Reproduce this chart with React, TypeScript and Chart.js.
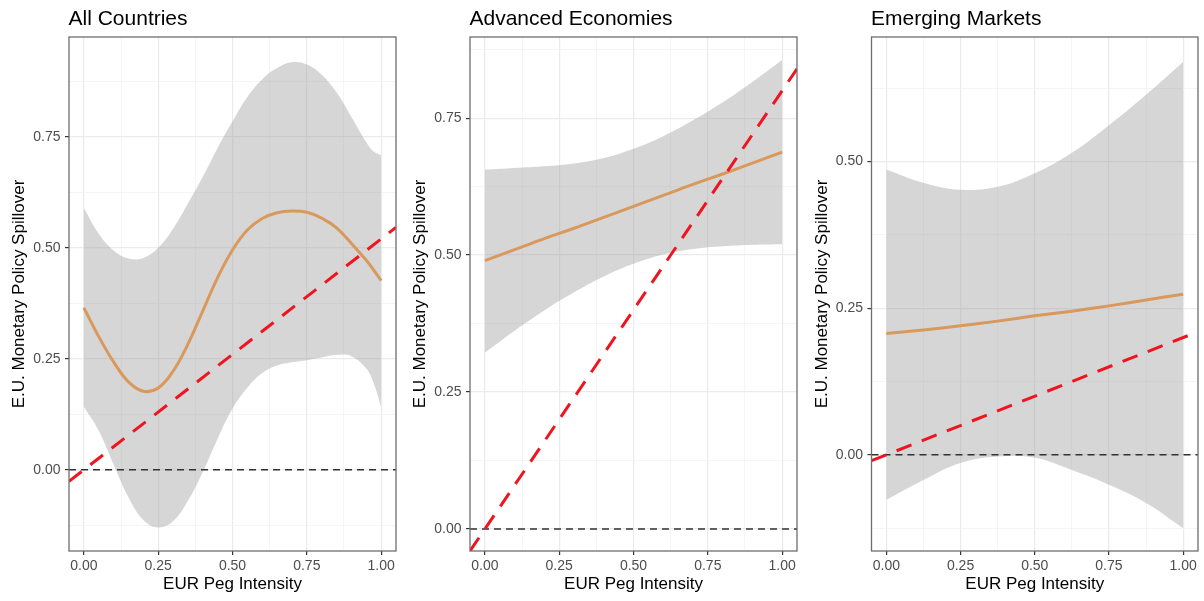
import React, { useEffect, useRef } from 'react';
import { Chart, registerables } from 'chart.js';

Chart.register(...registerables);

const FONT = "'Liberation Sans', Arial, Helvetica, sans-serif";

// ---------- shared axis data ----------
const xRange = [-0.05, 1.05];
const xGridValues = [0, 0.125, 0.25, 0.375, 0.5, 0.625, 0.75, 0.875, 1];
const xMajorValues = [0, 0.25, 0.5, 0.75, 1];
const xTickLabels = ['0.00', '0.25', '0.50', '0.75', '1.00'];
const xAxisTitle = 'EUR Peg Intensity';
const yAxisTitle = 'E.U. Monetary Policy Spillover';

// ---------- panel 1: All Countries ----------
const p1Title = 'All Countries';
const p1X = [0, 0.05, 0.1, 0.15, 0.2, 0.25, 0.3, 0.35, 0.4, 0.45, 0.5, 0.55, 0.6, 0.65, 0.7, 0.75, 0.8, 0.85, 0.9, 0.95, 0.975, 1];
const p1Fit = [0.365, 0.3, 0.243, 0.198, 0.177, 0.184, 0.222, 0.283, 0.358, 0.433, 0.495, 0.54, 0.566, 0.579, 0.583, 0.58, 0.567, 0.545, 0.51, 0.472, 0.45, 0.426];
const p1Upper = [0.59, 0.532, 0.494, 0.476, 0.477, 0.5, 0.543, 0.6, 0.66, 0.725, 0.785, 0.84, 0.88, 0.905, 0.918, 0.913, 0.89, 0.85, 0.795, 0.738, 0.717, 0.709];
const p1Lower = [0.142, 0.088, 0.012, -0.062, -0.113, -0.13, -0.116, -0.07, -0.005, 0.07, 0.138, 0.185, 0.218, 0.235, 0.242, 0.247, 0.253, 0.259, 0.256, 0.228, 0.195, 0.142];
const p1RefX = [-0.05, 1.05];
const p1RefY = [-0.026, 0.546];
const p1YRange = [-0.183, 0.975];
const p1YGrid = [-0.125, 0, 0.125, 0.25, 0.375, 0.5, 0.625, 0.75, 0.875];
const p1YMajor = [0, 0.25, 0.5, 0.75];
const p1YLabels = ['0.00', '0.25', '0.50', '0.75'];

// ---------- panel 2: Advanced Economies ----------
const p2Title = 'Advanced Economies';
const p2X = [0, 0.1, 0.2, 0.3, 0.4, 0.5, 0.6, 0.7, 0.8, 0.9, 1];
const p2Fit = [0.49, 0.51, 0.53, 0.549, 0.569, 0.589, 0.609, 0.629, 0.648, 0.668, 0.688];
const p2Upper = [0.656, 0.659, 0.662, 0.667, 0.677, 0.694, 0.717, 0.746, 0.779, 0.816, 0.856];
const p2Lower = [0.322, 0.362, 0.399, 0.432, 0.461, 0.484, 0.501, 0.511, 0.516, 0.519, 0.52];
const p2RefX = [-0.05, 1.05];
const p2RefY = [-0.04, 0.84];
const p2YRange = [-0.04, 0.898];
const p2YGrid = [0, 0.125, 0.25, 0.375, 0.5, 0.625, 0.75, 0.875];
const p2YMajor = [0, 0.25, 0.5, 0.75];
const p2YLabels = ['0.00', '0.25', '0.50', '0.75'];

// ---------- panel 3: Emerging Markets ----------
const p3Title = 'Emerging Markets';
const p3X = [0, 0.125, 0.25, 0.375, 0.5, 0.625, 0.75, 0.875, 1];
const p3Fit = [0.207, 0.213, 0.22, 0.228, 0.237, 0.245, 0.254, 0.264, 0.274];
const p3Upper = [0.486, 0.464, 0.452, 0.457, 0.48, 0.515, 0.562, 0.614, 0.67];
const p3Lower = [-0.077, -0.043, -0.014, -0.003, -0.005, -0.026, -0.051, -0.082, -0.125];
const p3RefX = [-0.05, 1.05];
const p3RefY = [-0.01, 0.21];
const p3YRange = [-0.164, 0.7125];
const p3YGrid = [-0.125, 0, 0.125, 0.25, 0.375, 0.5, 0.625];
const p3YMajor = [0, 0.25, 0.5];
const p3YLabels = ['0.00', '0.25', '0.50'];

const zeroX = [-0.05, 1.05];
const zeroY = [0, 0];

type Panel = {
  title: string;
  x: number[];
  fit: number[];
  upper: number[];
  lower: number[];
  refX: number[];
  refY: number[];
  yRange: number[];
  yGrid: number[];
  yMajor: number[];
  yLabels: string[];
  pageLeft: number;
  width: number;
  axisWidth: number;
  rightPad: number;
};

const panels: Panel[] = [
  { title: p1Title, x: p1X, fit: p1Fit, upper: p1Upper, lower: p1Lower, refX: p1RefX, refY: p1RefY, yRange: p1YRange, yGrid: p1YGrid, yMajor: p1YMajor, yLabels: p1YLabels, pageLeft: 0, width: 400, axisWidth: 69, rightPad: 4 },
  { title: p2Title, x: p2X, fit: p2Fit, upper: p2Upper, lower: p2Lower, refX: p2RefX, refY: p2RefY, yRange: p2YRange, yGrid: p2YGrid, yMajor: p2YMajor, yLabels: p2YLabels, pageLeft: 400, width: 400, axisWidth: 70, rightPad: 3 },
  { title: p3Title, x: p3X, fit: p3Fit, upper: p3Upper, lower: p3Lower, refX: p3RefX, refY: p3RefY, yRange: p3YRange, yGrid: p3YGrid, yMajor: p3YMajor, yLabels: p3YLabels, pageLeft: 800, width: 404, axisWidth: 71.5, rightPad: 6 },
];

const H = 601;

const pts = (xs: number[], ys: number[]) => xs.map((x, i) => ({ x, y: ys[i] }));
const findIdx = (arr: number[], v: number) => arr.findIndex((m) => Math.abs(m - v) < 1e-9);

function PanelChart({ p }: { p: Panel }) {
  const ref = useRef<HTMLCanvasElement | null>(null);
  useEffect(() => {
    if (!ref.current) return;
    const isMajorX = (v: number) => findIdx(xMajorValues, v) >= 0;
    const isMajorY = (v: number) => findIdx(p.yMajor, v) >= 0;

    const framePlugin = {
      id: 'frame' + p.title,
      afterDraw(chart: any) {
        const { ctx, chartArea } = chart;
        ctx.save();
        ctx.strokeStyle = '#6e6e6e';
        ctx.lineWidth = 1.3;
        ctx.strokeRect(chartArea.left, chartArea.top, chartArea.right - chartArea.left, chartArea.bottom - chartArea.top);
        ctx.fillStyle = '#000000';
        ctx.font = `21px ${FONT}`;
        ctx.textAlign = 'left';
        ctx.textBaseline = 'alphabetic';
        ctx.fillText(p.title, chartArea.left - 0.5, 25);
        ctx.restore();
      },
    };

    const chart = new Chart(ref.current, {
      type: 'line',
      data: {
        datasets: [
          {
            data: pts(p.x, p.upper),
            borderColor: 'transparent',
            borderWidth: 0,
            pointRadius: 0,
            backgroundColor: 'rgba(153,153,153,0.4)',
            fill: '+1',
            tension: 0.4,
            order: 10,
          },
          {
            data: pts(p.x, p.lower),
            borderColor: 'transparent',
            borderWidth: 0,
            pointRadius: 0,
            fill: false,
            tension: 0.4,
            order: 9,
          },
          {
            data: pts(p.x, p.fit),
            borderColor: '#D9985C',
            borderWidth: 3,
            pointRadius: 0,
            fill: false,
            tension: 0.4,
            order: 5,
          },
          {
            data: pts(zeroX, zeroY),
            borderColor: '#333333',
            borderWidth: 1.5,
            borderDash: [7, 5],
            pointRadius: 0,
            fill: false,
            order: 3,
          },
          {
            data: pts(p.refX, p.refY),
            borderColor: '#EE1520',
            borderWidth: 3,
            borderDash: [16, 11],
            pointRadius: 0,
            fill: false,
            order: 1,
          },
        ] as any,
      },
      options: {
        responsive: false,
        animation: false,
        devicePixelRatio: 1,
        layout: { padding: { left: 0, right: p.rightPad, top: 37, bottom: 0 } },
        plugins: {
          legend: { display: false },
          tooltip: { enabled: false },
          title: { display: false },
        },
        scales: {
          x: {
            type: 'linear',
            min: xRange[0],
            max: xRange[1],
            afterBuildTicks: (s: any) => {
              s.ticks = xGridValues.map((v) => ({ value: v }));
            },
            afterFit: (s: any) => {
              s.height = 50;
            },
            ticks: {
              autoSkip: false,
              maxRotation: 0,
              minRotation: 0,
              padding: 2.5,
              color: '#4D4D4D',
              font: { family: FONT, size: 14 },
              callback: (v: any) => {
                const i = findIdx(xMajorValues, Number(v));
                return i >= 0 ? xTickLabels[i] : '';
              },
            },
            grid: {
              color: (c: any) => (isMajorX(c.tick.value) ? '#EBEBEB' : '#F3F3F3'),
              lineWidth: (c: any) => (isMajorX(c.tick.value) ? 1.2 : 0.8),
              tickColor: (c: any) => (isMajorX(c.tick.value) ? '#333333' : 'rgba(0,0,0,0)'),
              tickLength: 4,
              drawTicks: true,
            },
            border: { display: false },
            title: {
              display: true,
              text: xAxisTitle,
              color: '#000000',
              font: { family: FONT, size: 17 },
              padding: { top: 0, bottom: 6.2 },
            },
          },
          y: {
            type: 'linear',
            min: p.yRange[0],
            max: p.yRange[1],
            afterBuildTicks: (s: any) => {
              s.ticks = p.yGrid.map((v) => ({ value: v }));
            },
            afterFit: (s: any) => {
              s.width = p.axisWidth;
            },
            ticks: {
              autoSkip: false,
              padding: 4.5,
              color: '#4D4D4D',
              font: { family: FONT, size: 14 },
              callback: (v: any) => {
                const i = findIdx(p.yMajor, Number(v));
                return i >= 0 ? p.yLabels[i] : '';
              },
            },
            grid: {
              color: (c: any) => (isMajorY(c.tick.value) ? '#EBEBEB' : '#F3F3F3'),
              lineWidth: (c: any) => (isMajorY(c.tick.value) ? 1.2 : 0.8),
              tickColor: (c: any) => (isMajorY(c.tick.value) ? '#333333' : 'rgba(0,0,0,0)'),
              tickLength: 4,
              drawTicks: true,
            },
            border: { display: false },
            title: {
              display: true,
              text: yAxisTitle,
              color: '#000000',
              font: { family: FONT, size: 17 },
              padding: { top: p.axisWidth - 59.6, bottom: 0 },
            },
          },
        },
      } as any,
      plugins: [framePlugin],
    });
    return () => chart.destroy();
  }, [p]);
  return (
    <canvas
      ref={ref}
      width={p.width}
      height={H}
      style={{ position: 'absolute', left: p.pageLeft, top: 0, width: p.width, height: H, display: 'block' }}
    />
  );
}

export default function App() {
  return (
    <div style={{ position: 'absolute', left: 0, top: 0, width: 1204, height: H, background: '#ffffff', overflow: 'hidden' }}>
      {panels.map((p) => (
        <PanelChart key={p.title} p={p} />
      ))}
    </div>
  );
}
